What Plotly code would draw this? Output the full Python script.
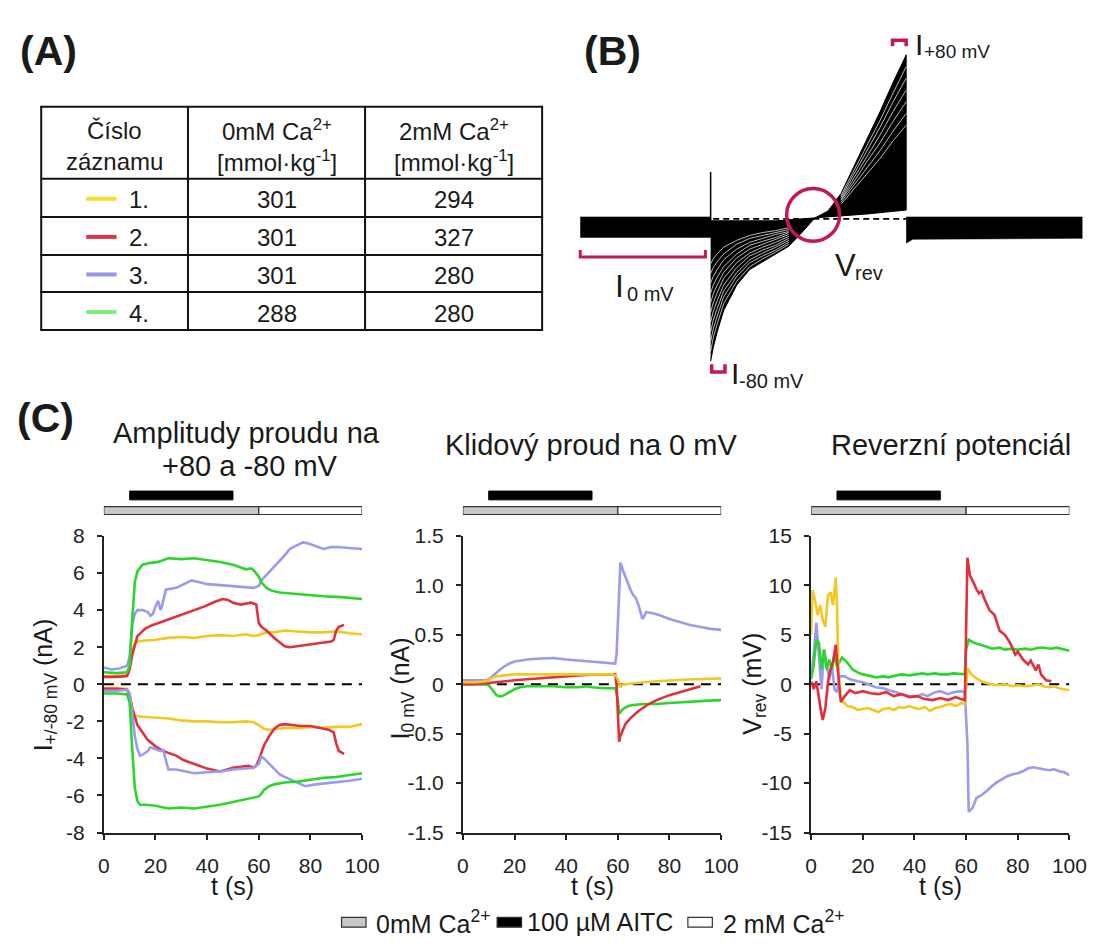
import plotly.graph_objects as go

W, H = 1107, 947
def px(x): return x / W
def py(y): return 1 - y / H

FONT = "Liberation Sans, Arial, Helvetica, sans-serif"
MAG = "#C2185B"

# ---------------- colours ----------------
COL = {"yellow": "#F2C81E", "red": "#E0303C", "blue": "#9A9AF0", "green": "#2BD62B"}
TABLE_COL = ["#F0E02A", "#DC3545", "#9696EB", "#7CF07C"]

# ---------------- panel A: table ----------------
table_rows = ["1.", "2.", "3.", "4."]
osm_0mM = [301, 301, 301, 288]
osm_2mM = [294, 327, 280, 280]

# ---------------- panel C: time courses ----------------
# Amplitudes at +80 mV
yellow_pos_t = [0, 5, 9, 10, 11, 12, 13, 15, 20, 25, 30, 35, 40, 45, 50, 55, 58, 60, 63, 66, 70, 75, 80, 85, 90, 95, 100]
yellow_pos_v = [0.45, 0.45, 0.5, 0.9, 1.8, 2.2, 2.3, 2.35, 2.4, 2.5, 2.55, 2.5, 2.6, 2.65, 2.6, 2.7, 2.6, 2.65, 2.8, 2.8, 2.9, 2.85, 2.8, 2.8, 2.85, 2.75, 2.7]
red_pos_t = [0, 5, 9, 10, 11, 12, 13, 16, 19, 22, 25, 28, 31, 35, 39, 43, 46, 48, 50, 53, 55, 57, 59, 60, 61, 63, 66, 68, 70, 72, 75, 78, 80, 83, 86, 88, 89, 90, 91, 93]
red_pos_v = [0.4, 0.4, 0.45, 0.8, 1.6, 2.1, 2.6, 3.0, 3.2, 3.35, 3.5, 3.65, 3.8, 4.0, 4.2, 4.45, 4.6, 4.55, 4.4, 4.3, 4.35, 4.4, 4.3, 3.3, 3.1, 2.9, 2.5, 2.25, 2.05, 2.0, 2.05, 2.1, 2.15, 2.2, 2.25, 2.3, 2.4, 2.9, 3.1, 3.2]
blue_pos_t = [0, 3, 6, 9, 10, 11, 12, 13, 15, 17, 18, 19, 20, 21, 22, 22.5, 24, 26, 28, 31, 34, 37, 40, 45, 50, 55, 58, 60, 61, 63, 65, 68, 70, 72, 75, 77, 79, 82, 85, 88, 91, 95, 100]
blue_pos_v = [0.9, 0.8, 0.85, 1.0, 1.5, 3.2, 3.8, 4.0, 4.0, 3.9, 3.7, 3.8, 4.2, 4.5, 4.0, 4.2, 5.1, 5.15, 5.2, 5.4, 5.6, 5.5, 5.4, 5.35, 5.3, 5.25, 5.2, 5.3, 5.6, 5.9, 6.2, 6.6, 6.95, 7.3, 7.5, 7.65, 7.6, 7.45, 7.3, 7.4, 7.4, 7.35, 7.3]
green_pos_t = [0, 5, 9, 10, 11, 12, 13, 15, 18, 21, 25, 30, 35, 40, 45, 50, 53, 55, 57, 58, 60, 61, 63, 65, 68, 72, 78, 85, 92, 100]
green_pos_v = [0.65, 0.6, 0.65, 1.0, 3.5, 5.5, 6.1, 6.45, 6.55, 6.6, 6.8, 6.75, 6.8, 6.7, 6.6, 6.45, 6.3, 6.2, 6.25, 6.15, 5.8, 5.5, 5.2, 5.05, 4.95, 4.9, 4.85, 4.75, 4.7, 4.6]
# Amplitudes at -80 mV
yellow_neg_t = [0, 5, 9, 10, 11, 12, 15, 20, 25, 30, 35, 40, 45, 50, 55, 58, 60, 62, 64, 68, 72, 76, 80, 85, 90, 95, 100]
yellow_neg_v = [-0.2, -0.2, -0.25, -0.6, -1.3, -1.7, -1.75, -1.8, -1.85, -1.95, -2.0, -2.0, -2.05, -2.05, -2.0, -2.05, -2.2, -2.4, -2.45, -2.4, -2.35, -2.35, -2.3, -2.35, -2.3, -2.3, -2.15]
red_neg_t = [0, 5, 9, 10, 11, 12, 13, 15, 17, 20, 23, 25, 28, 31, 35, 40, 45, 48, 50, 53, 56, 58, 59, 60, 61, 62, 64, 66, 68, 70, 73, 76, 80, 84, 87, 89, 90, 91, 93]
red_neg_v = [-0.25, -0.25, -0.3, -0.6, -1.3, -1.8, -2.2, -2.6, -3.0, -3.35, -3.6, -3.7, -3.85, -4.1, -4.3, -4.55, -4.7, -4.6, -4.5, -4.45, -4.4, -4.5, -4.4, -4.1, -3.7, -3.3, -2.8, -2.4, -2.2, -2.15, -2.2, -2.25, -2.25, -2.35, -2.45, -2.6, -3.2, -3.6, -3.75]
blue_neg_t = [0, 5, 9, 10, 11, 12, 13, 14, 15, 17, 18, 20, 22, 23, 24, 25, 28, 31, 35, 40, 45, 50, 55, 58, 60, 61, 62, 64, 66, 68, 70, 73, 76, 78, 82, 86, 90, 95, 100]
blue_neg_v = [-0.35, -0.35, -0.3, -0.5, -1.5, -2.8, -3.5, -3.85, -3.8, -3.6, -3.4, -3.5, -3.6, -3.55, -4.1, -4.6, -4.6, -4.7, -4.8, -4.75, -4.7, -4.6, -4.55, -4.5, -4.3, -3.9, -4.0, -4.3, -4.6, -4.85, -5.0, -5.2, -5.4, -5.5, -5.4, -5.35, -5.3, -5.2, -5.1]
green_neg_t = [0, 5, 9, 10, 11, 12, 13, 14, 16, 20, 25, 30, 35, 40, 45, 50, 55, 58, 60, 61, 62, 64, 66, 70, 75, 80, 85, 90, 95, 100]
green_neg_v = [-0.5, -0.5, -0.55, -1.0, -3.5, -5.6, -6.3, -6.5, -6.5, -6.55, -6.7, -6.65, -6.7, -6.6, -6.5, -6.35, -6.2, -6.1, -6.05, -5.9, -5.7, -5.5, -5.4, -5.3, -5.25, -5.15, -5.05, -5.0, -4.9, -4.8]

# Resting current at 0 mV
yellow0_t = [0, 5, 9, 10, 11, 13, 16, 20, 30, 40, 50, 55, 58, 59, 60, 61, 62, 63, 66, 70, 75, 80, 85, 90, 95, 100]
yellow0_v = [0.02, 0.02, 0.03, 0.04, 0.06, 0.08, 0.09, 0.1, 0.1, 0.1, 0.1, 0.1, 0.1, 0.09, 0.05, -0.03, 0.0, 0.0, 0.01, 0.02, 0.03, 0.04, 0.045, 0.05, 0.055, 0.06]
red0_t = [0, 5, 9, 12, 16, 20, 25, 30, 35, 40, 45, 50, 55, 59, 59.5, 60, 60.5, 61, 62, 63, 65, 68, 72, 75, 80, 85, 88, 90, 92]
red0_v = [0.0, 0.0, 0.01, 0.02, 0.03, 0.04, 0.05, 0.06, 0.07, 0.08, 0.09, 0.1, 0.1, 0.1, 0.0, -0.3, -0.58, -0.52, -0.45, -0.4, -0.34, -0.27, -0.2, -0.16, -0.11, -0.07, -0.05, -0.03, -0.02]
blue0_t = [0, 5, 9, 10, 12, 14, 16, 18, 20, 25, 30, 35, 40, 45, 50, 55, 59, 59.5, 60, 60.5, 61, 62, 63, 64, 65, 66, 67, 68, 69, 69.5, 70, 71, 73, 76, 80, 84, 88, 92, 96, 100]
blue0_v = [0.04, 0.04, 0.04, 0.05, 0.1, 0.14, 0.18, 0.21, 0.23, 0.25, 0.26, 0.265, 0.25, 0.24, 0.23, 0.22, 0.21, 0.3, 0.6, 1.0, 1.23, 1.15, 1.08, 1.0, 0.95, 0.9, 0.87, 0.8, 0.7, 0.66, 0.68, 0.73, 0.72, 0.7, 0.66, 0.63, 0.6, 0.58, 0.56, 0.55]
green0_t = [0, 5, 9, 10, 11, 12, 13, 14, 15, 16, 18, 20, 22, 25, 30, 35, 40, 45, 48, 50, 55, 59, 60, 60.5, 61, 62, 64, 66, 70, 75, 80, 85, 90, 95, 100]
green0_v = [0.0, 0.0, 0.0, -0.01, -0.04, -0.08, -0.11, -0.12, -0.12, -0.11, -0.08, -0.05, -0.03, -0.02, -0.02, -0.02, -0.03, -0.03, -0.02, -0.03, -0.04, -0.04, -0.15, -0.3, -0.28, -0.25, -0.22, -0.21, -0.2, -0.2, -0.19, -0.18, -0.17, -0.165, -0.16]

# Reversal potential
yellow_rev_t = [0, 0.5, 1.5, 2.5, 3.5, 4.5, 5.5, 6.5, 7.5, 8.5, 9.5, 10, 10.5, 11, 12, 13, 14, 16, 18, 20, 22, 24, 26, 28, 30, 32, 34, 36, 38, 40, 42, 44, 46, 48, 50, 52, 54, 56, 58, 59.5, 60.5, 62, 64, 66, 68, 70, 72, 75, 78, 80, 83, 86, 88, 90, 92, 94, 96, 98, 100]
yellow_rev_v = [5.0, 9.5, 8.5, 7.0, 8.0, 6.5, 5.8, 9.0, 9.3, 8.0, 10.8, 8.0, 2.0, -1.0, -1.8, -1.9, -2.2, -2.3, -2.6, -2.5, -2.4, -2.6, -2.8, -2.5, -2.4, -2.6, -2.3, -2.4, -2.2, -2.4, -2.5, -2.3, -2.7, -2.4, -2.3, -2.1, -2.0, -2.2, -1.9, -2.0, 1.6, 1.0, 0.6, 0.3, 0.1, 0.0, -0.1, 0.0, -0.2, -0.1, -0.2, -0.1, 0.0, -0.2, -0.3, -0.2, -0.4, -0.5, -0.6]
red_rev_t = [0, 1, 2, 3, 4, 4.5, 5.5, 6.5, 7.5, 8.5, 9.5, 10.5, 11.5, 13, 15, 17, 20, 23, 26, 29, 32, 35, 38, 41, 44, 47, 50, 53, 56, 58, 59.5, 60.5, 61.5, 63, 64, 65, 66, 67, 69, 71, 72, 73, 75, 77, 79, 80, 82, 84, 85, 87, 88, 89, 91, 93]
red_rev_v = [0.3, -0.5, 0.3, -1.5, -3.0, -3.6, -2.4, 0.2, 1.5, 2.3, 4.0, 1.0, -1.8, -1.2, -0.6, -0.9, -0.7, -0.9, -1.0, -0.8, -1.2, -1.0, -1.3, -1.2, -1.5, -1.6, -1.4, -1.6, -1.3, -1.5, -1.6, 12.8, 11.0, 10.2, 9.6, 9.2, 9.4, 8.7, 7.5, 7.0, 6.3, 5.4, 5.0, 4.2, 3.0, 3.3, 2.5, 2.0, 2.4, 1.4, 2.0, 1.0, 0.4, 0.3]
blue_rev_t = [0, 1, 2, 2.5, 3, 4, 5, 6, 7, 8, 9, 10, 11, 13, 15, 18, 20, 23, 25, 28, 30, 33, 35, 38, 40, 43, 45, 48, 50, 53, 55, 58, 59.5, 60.5, 61, 62.5, 64, 66, 68, 70, 72, 74, 76, 78, 80, 82, 84, 86, 88, 90, 92, 94, 96, 98, 100]
blue_rev_v = [1.0, 3.0, 6.2, 4.5, 2.0, -0.5, 3.5, 2.0, 0.5, 2.0, -0.5, -0.8, 0.8, 0.8, 0.5, 0.3, 0.2, -0.1, -0.3, -0.4, -0.6, -0.8, -1.0, -1.2, -1.3, -1.0, -1.2, -0.8, -0.7, -1.0, -0.8, -0.7, -0.8, -6.0, -12.9, -12.5, -11.5, -11.2, -10.8, -10.3, -9.9, -9.6, -9.3, -9.1, -9.0, -8.8, -8.5, -8.4, -8.5, -8.6, -8.7, -8.6, -8.8, -8.9, -9.2]
green_rev_t = [0, 1, 2, 3, 4, 5, 6, 7, 8, 9, 10, 11, 12, 14, 16, 18, 20, 22, 25, 28, 30, 33, 35, 38, 40, 43, 45, 48, 50, 53, 55, 58, 59.5, 60, 61, 63, 66, 68, 70, 73, 75, 78, 80, 83, 85, 88, 90, 93, 95, 98, 100]
green_rev_v = [0.5, 2.0, 4.5, 4.2, 1.5, 3.5, 1.5, 2.5, 1.5, 3.0, 1.8, 2.2, 2.7, 2.2, 1.5, 1.2, 1.0, 0.9, 0.7, 0.8, 0.7, 0.9, 1.0, 0.9, 1.0, 1.1, 1.0, 1.1, 1.0, 1.0, 1.1, 1.0, 1.0, 3.5, 4.5, 4.2, 4.0, 3.8, 3.6, 3.7, 3.5, 3.6, 3.5, 3.6, 3.5, 3.7, 3.7, 3.6, 3.7, 3.5, 3.4]

# Protocol segments (s)
ca0_seg = [0, 60]
ca2_seg = [60, 100]
aitc_seg = [10, 50]

# ---------------- panel B: current traces (ms, nA) ----------------
bandL_t = [0, 100, 100, 0]
bandL_i = [0.1, 0.1, -0.95, -0.95]
bandR_t = [250, 385, 385, 255, 250]
bandR_i = [0.1, 0.1, -1.0, -1.05, -1.25]
spike_t = [100, 100]
spike_i = [-0.9, 2.4]
rampB_t = [100, 102, 105, 110, 120, 130, 140, 150, 160, 170, 180, 190, 200, 210, 220, 230, 240, 250]
rampB_outer = [-7.3, -6.6, -5.8, -4.7, -3.4, -2.6, -2.2, -1.8, -1.4, -0.7, 0.05, 0.4, 1.3, 2.7, 4.1, 5.5, 7.0, 8.4]
rampB_inner = [-0.1, -0.1, -0.1, -0.1, -0.1, -0.1, -0.1, -0.1, -0.05, 0.0, 0.05, 0.1, 0.15, 0.2, 0.25, 0.3, 0.38, 0.45]
negB_t = [100, 102, 105, 110, 120, 130, 140, 150, 160]
negB_sweeps = [
    [-6.8, -6.1, -5.4, -4.35, -3.2, -2.45, -2.05, -1.7, -1.3],
    [-6.3, -5.65, -5.0, -4.0, -2.95, -2.25, -1.9, -1.6, -1.2],
    [-5.8, -5.2, -4.6, -3.7, -2.75, -2.1, -1.75, -1.45, -1.1],
    [-5.3, -4.75, -4.2, -3.4, -2.5, -1.9, -1.6, -1.35, -1.0],
    [-4.8, -4.3, -3.8, -3.05, -2.25, -1.75, -1.45, -1.2, -0.9],
    [-4.3, -3.85, -3.4, -2.75, -2.0, -1.55, -1.3, -1.05, -0.8],
    [-3.8, -3.4, -3.0, -2.45, -1.8, -1.35, -1.15, -0.95, -0.7],
    [-3.3, -2.95, -2.6, -2.1, -1.55, -1.2, -1.0, -0.8, -0.65],
    [-2.8, -2.5, -2.2, -1.8, -1.3, -1.0, -0.85, -0.7, -0.55],
    [-2.3, -2.05, -1.8, -1.45, -1.1, -0.85, -0.7, -0.6, -0.45],
]
posB_t = [200, 210, 220, 230, 240, 250]
posB_sweeps = [
    [1.2, 2.5, 3.8, 5.05, 6.45, 7.8],
    [1.1, 2.3, 3.55, 4.7, 6.0, 7.2],
    [1.0, 2.1, 3.25, 4.3, 5.5, 6.6],
    [0.95, 1.9, 2.95, 3.9, 5.0, 6.0],
    [0.85, 1.75, 2.65, 3.5, 4.5, 5.4],
    [0.75, 1.55, 2.35, 3.1, 4.0, 4.8],
]

fig = go.Figure()

def line(x, y, color, ax, width=2.6, dash=None, fill=None, fillcolor=None):
    fig.add_trace(go.Scatter(x=x, y=y, mode="lines", xaxis="x" + ax, yaxis="y" + ax,
                             line=dict(color=color, width=width, dash=dash),
                             fill=fill, fillcolor=fillcolor,
                             hoverinfo="skip", showlegend=False))

# ---- panel B traces (axis 4)
line(bandL_t, bandL_i, "black", "4", width=0.5, fill="toself", fillcolor="black")
line(bandR_t, bandR_i, "black", "4", width=0.5, fill="toself", fillcolor="black")
line(rampB_t + rampB_t[::-1], rampB_outer + rampB_inner[::-1], "black", "4", width=1, fill="toself", fillcolor="black")
for s in negB_sweeps:
    line(negB_t, s, "rgba(255,255,255,0.9)", "4", width=0.8)
for s in posB_sweeps:
    line(posB_t, s, "rgba(255,255,255,0.9)", "4", width=0.8)
line(spike_t, spike_i, "black", "4", width=1.5)
line([102, 250], [0, 0], "black", "4", width=1.8, dash="6px,4px")

# ---- panel C traces
sets = [
    ("", [(yellow_pos_t, yellow_pos_v, "yellow"), (yellow_neg_t, yellow_neg_v, "yellow"),
          (red_pos_t, red_pos_v, "red"), (red_neg_t, red_neg_v, "red"),
          (blue_pos_t, blue_pos_v, "blue"), (blue_neg_t, blue_neg_v, "blue"),
          (green_pos_t, green_pos_v, "green"), (green_neg_t, green_neg_v, "green")]),
    ("2", [(blue0_t, blue0_v, "blue"), (green0_t, green0_v, "green"),
           (red0_t, red0_v, "red"), (yellow0_t, yellow0_v, "yellow")]),
    ("3", [(blue_rev_t, blue_rev_v, "blue"), (green_rev_t, green_rev_v, "green"),
           (yellow_rev_t, yellow_rev_v, "yellow"), (red_rev_t, red_rev_v, "red")]),
]
for ax, lst in sets:
    line([0, 100], [0, 0], "black", ax, width=2, dash="10px,7px")
    for t, v, c in lst:
        line(t, v, COL[c], ax)

# ---------------- axes ----------------
common = dict(showgrid=False, zeroline=False, showline=True, linecolor="#222", linewidth=2,
              ticks="outside", ticklen=5, tickwidth=2, tickcolor="#222",
              tickfont=dict(family=FONT, size=21, color="#222"), ticklabelstandoff=8, fixedrange=True)
xdom = [(100, 364), (467, 731), (823, 1087)]
ydom = [py(841), py(537)]
names = ["", "2", "3"]
yr = [(-8, 8), (-1.5, 1.5), (-15, 15)]
ytv = [[-8, -6, -4, -2, 0, 2, 4, 6, 8],
       [-1.5, -1.0, -0.5, 0, 0.5, 1.0, 1.5],
       [-15, -10, -5, 0, 5, 10, 15]]
ytt = [[str(v) for v in ytv[0]],
       ["-1.5", "-1.0", "-0.5", "0", "0.5", "1.0", "1.5"],
       [str(v) for v in ytv[2]]]
layout_axes = {}
for i, n in enumerate(names):
    layout_axes["xaxis" + n] = dict(common, domain=[px(xdom[i][0]), px(xdom[i][1])], range=[0, 100],
                                    anchor="y" + n, tickvals=[0, 20, 40, 60, 80, 100])
    layout_axes["yaxis" + n] = dict(common, domain=ydom, range=list(yr[i]), anchor="x" + n,
                                    tickvals=ytv[i], ticktext=ytt[i])
# panel B axis: 1.3325 px per ms, 20 px per nA, zero at y=212 px
layout_axes["xaxis4"] = dict(visible=False, range=[-5, 390], domain=[px(580.3), px(1106.7)],
                             anchor="y4", fixedrange=True)
layout_axes["yaxis4"] = dict(visible=False, range=[-8.4, 9.85], domain=[py(380), py(15)],
                             anchor="x4", fixedrange=True)

shapes = []
ann = []

def text(x, y, s, size=22, xanchor="center", yanchor="middle", angle=0, bold=False):
    if bold:
        s = "<b>" + s + "</b>"
    ann.append(dict(x=px(x), y=py(y), xref="paper", yref="paper", text=s, showarrow=False,
                    xanchor=xanchor, yanchor=yanchor, textangle=angle,
                    font=dict(family=FONT, size=size, color="#1a1a1a")))

# ---- protocol bars
for n in names:
    xr = "x" + n
    shapes.append(dict(type="rect", xref=xr, yref="paper", x0=ca0_seg[0], x1=ca0_seg[1],
                       y0=py(515), y1=py(507), fillcolor="#c8c8c8", line=dict(color="#333", width=1.2)))
    shapes.append(dict(type="rect", xref=xr, yref="paper", x0=ca2_seg[0], x1=ca2_seg[1],
                       y0=py(515), y1=py(507), fillcolor="white", line=dict(color="#333", width=1.2)))
    shapes.append(dict(type="rect", xref=xr, yref="paper", x0=aitc_seg[0], x1=aitc_seg[1],
                       y0=py(500), y1=py(491), fillcolor="black", line=dict(color="black", width=1)))

# ---- table (panel A)
cols = [36, 186, 367, 548]
rows = [97, 171, 210, 249, 287, 326]
for yv in rows:
    shapes.append(dict(type="line", xref="paper", yref="paper", x0=px(cols[0] - 1), x1=px(cols[-1] + 1),
                       y0=py(yv), y1=py(yv), line=dict(color="#111", width=2)))
for xv in cols:
    shapes.append(dict(type="line", xref="paper", yref="paper", x0=px(xv), x1=px(xv),
                       y0=py(rows[0]), y1=py(rows[-1]), line=dict(color="#111", width=2)))
text(111, 121, "Číslo", size=24)
text(111, 153, "záznamu", size=24)
text(276.5, 121, "0mM Ca<sup>2+</sup>", size=24)
text(276.5, 153, "[mmol·kg<sup>-1</sup>]", size=24)
text(457.5, 121, "2mM Ca<sup>2+</sup>", size=24)
text(457.5, 153, "[mmol·kg<sup>-1</sup>]", size=24)
for i in range(4):
    yc = (rows[i + 1] + rows[i + 2]) / 2 + 2
    shapes.append(dict(type="line", xref="paper", yref="paper", x0=px(82), x1=px(113),
                       y0=py(yc - 1), y1=py(yc - 1), line=dict(color=TABLE_COL[i], width=4)))
    text(124, yc, table_rows[i], size=24, xanchor="left")
    text(276.5, yc, str(osm_0mM[i]), size=24)
    text(457.5, yc, str(osm_2mM[i]), size=24)

# ---- panel labels
text(12, 40, "(A)", size=41, xanchor="left", bold=True)
text(589, 40, "(B)", size=41, xanchor="left", bold=True)
text(9, 416, "(C)", size=41, xanchor="left", bold=True)

# ---- panel B decorations
shapes.append(dict(type="circle", xref="x4", yref="y4", x0=158.3, x1=198.9, y0=-1.15, y1=1.55,
                   line=dict(color=MAG, width=3.5)))
shapes.append(dict(type="path", xref="x4", yref="y4", path="M 0,-1.6 L 0,-1.95 L 96,-1.95 L 96,-1.6",
                   line=dict(color=MAG, width=3)))
shapes.append(dict(type="path", xref="x4", yref="y4", path="M 100.8,-7.45 L 100.8,-7.85 L 111,-7.85 L 111,-7.45",
                   line=dict(color=MAG, width=3.5)))
shapes.append(dict(type="path", xref="x4", yref="y4", path="M 239.5,8.85 L 239.5,9.15 L 250,9.15 L 250,8.85",
                   line=dict(color=MAG, width=3.5)))
text(927, 33, "I", size=30, xanchor="left")
text(936, 40, "+80 mV", size=19, xanchor="left")
text(620, 281, "I", size=32, xanchor="left")
text(633, 289, "0 mV", size=20, xanchor="left")
text(739, 371, "I", size=30, xanchor="left")
text(747, 378, "-80 mV", size=20, xanchor="left")
text(845, 260, "V", size=31, xanchor="left")
text(866, 267, "rev", size=20, xanchor="left")

# ---- panel C titles and axis titles
text(246, 431, "Amplitudy proudu na", size=29)
text(249, 465, "+80 a -80 mV", size=29)
text(598, 444, "Klidový proud na 0 mV", size=29)
text(966, 444, "Reverzní potenciál", size=29)
text(40, 690, "I<sub>+/-80 mV</sub> (nA)", size=25, angle=-90)
text(405, 693, "I<sub>0 mV</sub> (nA)", size=25, angle=-90)
text(765, 688, "V<sub>rev</sub> (mV)", size=25, angle=-90)
for xc in [232, 599, 955]:
    text(xc, 896, "t (s)", size=25)

# ---- bottom legend
for x0, fc in [(343, "#c8c8c8"), (502, "black"), (697, "white")]:
    shapes.append(dict(type="rect", xref="paper", yref="paper", x0=px(x0), x1=px(x0 + 25),
                       y0=py(938), y1=py(928), fillcolor=fc, line=dict(color="#333", width=1.2)))
text(376, 933, "0mM Ca<sup>2+</sup>", size=25, xanchor="left")
text(531, 933, "100 µM AITC", size=25, xanchor="left")
text(731, 933, "2 mM Ca<sup>2+</sup>", size=25, xanchor="left")

fig.update_layout(width=W, height=H, autosize=False, margin=dict(l=0, r=0, t=0, b=0),
                  paper_bgcolor="white", plot_bgcolor="white",
                  font=dict(family=FONT, color="#1a1a1a"),
                  shapes=shapes, annotations=ann, showlegend=False, **layout_axes)

fig.write_html("out.html", config={"displayModeBar": False})
